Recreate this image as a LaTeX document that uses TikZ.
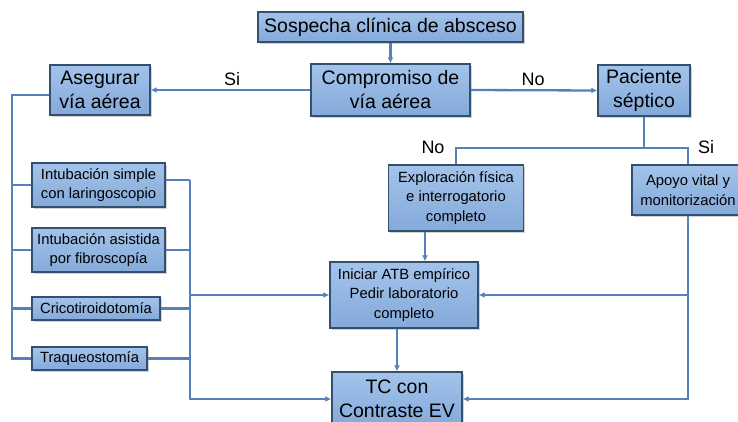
\documentclass[tikz,border=0pt]{standalone}
\usepackage{fontspec}
\setmainfont{Liberation Sans}
\usetikzlibrary{arrows.meta,shadows}
\definecolor{boxtop}{HTML}{A3C3EA}
\definecolor{boxbot}{HTML}{84AADA}
\definecolor{boxline}{HTML}{34506F}
\definecolor{conn}{HTML}{5580BC}
\tikzset{
  box/.style={draw=boxline, line width=1.4pt, top color=boxtop, bottom color=boxbot,
    inner sep=0pt, align=center, text=black,
    drop shadow={shadow xshift=1.5pt, shadow yshift=-1.5pt, opacity=0.35}},
  bigtxt/.style={font=\fontsize{19.5}{24}\selectfont},
  smalltxt/.style={font=\fontsize{14.8}{19.5}\selectfont},
  lbl/.style={font=\fontsize{18}{20}\selectfont, inner sep=0pt},
  line/.style={draw=conn, line width=2.3pt},
  arr/.style={line, -{Latex[length=6pt,width=6pt]}},
}
\begin{document}
\begin{tikzpicture}[x=1pt,y=-1pt]
\clip (0,0) rectangle (738,421);
\fill[white] (0,0) rectangle (738,421);

% boxes
\node[box,bigtxt,minimum width=265,minimum height=30] (sosp) at (390.5,27) {Sospecha clínica de absceso};
\node[box,bigtxt,minimum width=159,minimum height=52] (comp) at (390.5,90) {Compromiso de\\vía aérea};
\node[box,bigtxt,minimum width=100,minimum height=50] (aseg) at (100,90) {Asegurar\\vía aérea};
\node[box,bigtxt,minimum width=92,minimum height=51] (pac) at (644,90.5) {Paciente\\séptico};
\node[box,smalltxt,minimum width=133,minimum height=44] (int1) at (98.5,185) {Intubación simple\\con laringoscopio};
\node[box,smalltxt,minimum width=133,minimum height=44] (int2) at (98.5,250) {Intubación asistida\\por fibroscopía};
\node[box,smalltxt,minimum width=128,minimum height=23] (cric) at (96,308.5) {Cricotiroidotomía};
\node[box,smalltxt,minimum width=115,minimum height=23] (traq) at (89.5,358.5) {Traqueostomía};
\node[box,smalltxt,minimum width=135,minimum height=66] (expl) at (456,198) {Exploración física\\e interrogatorio\\completo};
\node[box,smalltxt,minimum width=112,minimum height=50] (apoyo) at (688,190) {Apoyo vital y\\monitorización};
\node[box,smalltxt,minimum width=148,minimum height=66] (ini) at (404,295) {Iniciar ATB empírico\\Pedir laboratorio\\completo};
\node[box,bigtxt,minimum width=130,minimum height=54] (tc) at (397,399) {TC con\\Contraste EV};

% labels
\node[lbl] (lsi1) at (232,79) {Si};
\node[lbl] (lno1) at (533,79) {No};
\node[lbl] (lno2) at (433,147) {No};
\node[lbl] (lsi2) at (706,147) {Si};

% top connectors
\draw[arr] (sosp.south) -- (comp.north);
\draw[arr] (comp.west) -- (aseg.east);
\draw[arr] (comp.east) -- (pac.west);

% septic branch
\coordinate (bY) at (644,148);
\draw[line] (pac.south) -- (bY);
\draw[line] (expl.north) |- (bY) -| (apoyo.north);
\draw[arr] ([xshift=-31pt]expl.south) -- ([xshift=-31pt]expl.south |- ini.north);
\draw[arr] (apoyo.south) |- (ini.east);
\draw[arr] (apoyo.south) |- (tc.east);
\draw[arr] (tc.north |- ini.south) -- (tc.north);

% left bus
\coordinate (Lbot) at (12,358.5);
\draw[line] ([yshift=-5pt]aseg.west) -| (Lbot) -- (traq.west);
\draw[line] (int1.west -| Lbot) -- (int1.west);
\draw[line] (int2.west -| Lbot) -- (int2.west);
\draw[line] (cric.west -| Lbot) -- (cric.west);

% right bus
\coordinate (Rt) at (190,180);
\draw[line] ([yshift=5pt]int1.east) -- (Rt);
\draw[arr] (Rt) |- (tc.west);
\draw[line] (int2.east) -- (int2.east -| Rt);
\draw[line] (cric.east) -- (cric.east -| Rt);
\draw[line] (traq.east) -- (traq.east -| Rt);
\draw[arr] (ini.west -| Rt) -- (ini.west);
\end{tikzpicture}
\end{document}
